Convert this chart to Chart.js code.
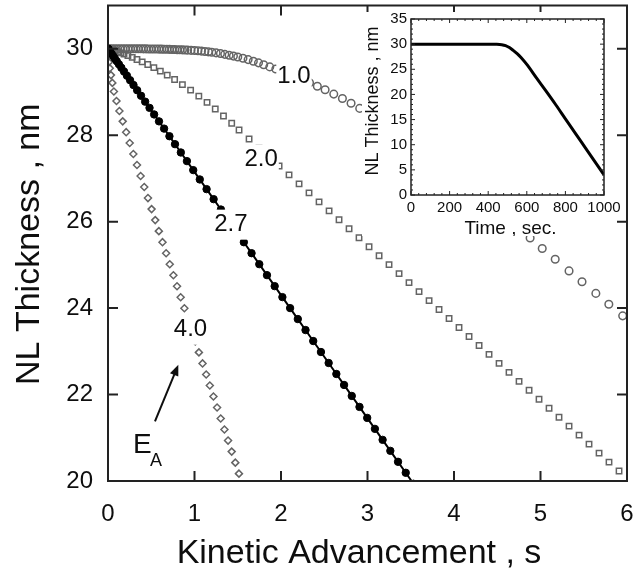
<!DOCTYPE html>
<html>
<head>
<meta charset="utf-8">
<title>NL thickness vs kinetic advancement</title>
<script src="https://cdn.jsdelivr.net/npm/chart.js@4.4.1/dist/chart.umd.min.js"></script>
<style>
  html, body { margin: 0; padding: 0; background: #fff; }
  #wrap { position: relative; width: 636px; height: 571px; overflow: hidden; }
  #wrap canvas { position: absolute; }
  #mainChart { left: 0; top: 0; }
  #insetChart { left: 362px; top: 12px; }
</style>
</head>
<body>
<div id="wrap">
  <canvas id="mainChart" width="636" height="571"></canvas>
  <canvas id="insetChart" width="262" height="224"></canvas>
</div>
<script>
(function () {
  'use strict';

  const FONT = '"Liberation Sans", Arial, Helvetica, sans-serif';
  const INK = '#0e0e0e';
  const GREY = '#646464';

  // E_A = 2.7 : kinetic advancement / NL thickness (filled, joined)
  const ea27X = [0, 0, 0.0028, 0.0084, 0.0168, 0.0281, 0.0421, 0.0589, 0.0786, 0.1011, 0.1263, 0.1544, 0.1853, 0.2189, 0.2554, 0.2947, 0.3368, 0.3818, 0.4295, 0.4800, 0.5333, 0.5895, 0.6484, 0.7102, 0.7747, 0.8421, 0.9123, 0.9853, 1.0611, 1.1396, 1.2211, 1.3053, 1.3923, 1.4814, 1.5705, 1.6596, 1.7488, 1.8379, 1.9270, 2.0161, 2.1053, 2.1944, 2.2835, 2.3726, 2.4618, 2.5509, 2.6400, 2.7291, 2.8182, 2.9074, 2.9965, 3.0856, 3.1747, 3.2639, 3.3530, 3.4421, 3.5312];
  const ea27Y = [30, 30, 29.992, 29.976, 29.952, 29.92, 29.88, 29.832, 29.776, 29.712, 29.64, 29.56, 29.472, 29.376, 29.272, 29.16, 29.04, 28.912, 28.776, 28.632, 28.48, 28.32, 28.152, 27.976, 27.792, 27.60, 27.40, 27.192, 26.976, 26.752, 26.52, 26.28, 26.032, 25.778, 25.524, 25.27, 25.016, 24.762, 24.508, 24.254, 24.0, 23.746, 23.492, 23.238, 22.984, 22.73, 22.476, 22.222, 21.968, 21.714, 21.46, 21.206, 20.952, 20.698, 20.444, 20.19, 19.936];

  // E_A = 1.0 (open circles)
  const ea10X = [0, 0, 0.02, 0.05, 0.08, 0.11, 0.14, 0.17, 0.20, 0.23, 0.26, 0.29, 0.32, 0.35, 0.38, 0.41, 0.44, 0.47, 0.50, 0.53, 0.56, 0.59, 0.62, 0.65, 0.68, 0.71, 0.74, 0.77, 0.80, 0.83, 0.86, 0.89, 0.92, 0.96, 1.00, 1.04, 1.08, 1.12, 1.16, 1.20, 1.25, 1.30, 1.35, 1.40, 1.45, 1.50, 1.56, 1.62, 1.68, 1.74, 1.80, 1.87, 1.94, 2.01, 2.09, 2.17, 2.25, 2.33, 2.42, 2.51, 2.61, 2.71, 2.81, 2.91, 3.02, 3.13, 3.25, 3.37, 3.50, 3.63, 3.76, 3.90, 4.04, 4.18, 4.32, 4.46, 4.60, 4.74, 4.88, 5.02, 5.17, 5.33, 5.48, 5.64, 5.79, 5.95];
  const ea10Y = [30, 30, 30, 30, 30, 30, 30, 30, 30, 29.999, 29.999, 29.999, 29.998, 29.998, 29.998, 29.997, 29.996, 29.995, 29.994, 29.993, 29.992, 29.991, 29.990, 29.988, 29.987, 29.985, 29.983, 29.981, 29.978, 29.976, 29.973, 29.970, 29.967, 29.963, 29.958, 29.952, 29.945, 29.937, 29.928, 29.918, 29.904, 29.888, 29.870, 29.850, 29.830, 29.808, 29.778, 29.748, 29.712, 29.673, 29.630, 29.580, 29.532, 29.482, 29.418, 29.354, 29.288, 29.213, 29.133, 29.050, 28.950, 28.850, 28.740, 28.620, 28.485, 28.345, 28.185, 28.010, 27.820, 27.620, 27.420, 27.215, 27.000, 26.780, 26.550, 26.320, 26.090, 25.860, 25.620, 25.380, 25.130, 24.860, 24.610, 24.340, 24.090, 23.820];

  // E_A = 2.0 (open squares)
  const ea20X = [0, 0, 0.008, 0.02, 0.035, 0.055, 0.08, 0.11, 0.145, 0.185, 0.23, 0.28, 0.335, 0.395, 0.46, 0.53, 0.605, 0.685, 0.77, 0.86, 0.955, 1.05, 1.145, 1.24, 1.335, 1.43, 1.515, 1.631, 1.746, 1.862, 1.978, 2.093, 2.209, 2.324, 2.440, 2.556, 2.671, 2.787, 2.902, 3.018, 3.134, 3.249, 3.365, 3.480, 3.596, 3.712, 3.827, 3.943, 4.058, 4.174, 4.290, 4.405, 4.521, 4.636, 4.752, 4.868, 4.983, 5.099, 5.214, 5.330, 5.446, 5.561, 5.677, 5.792, 5.908];
  const ea20Y = [30, 30, 29.995, 29.988, 29.979, 29.966, 29.949, 29.929, 29.904, 29.874, 29.840, 29.799, 29.751, 29.697, 29.634, 29.563, 29.482, 29.390, 29.287, 29.171, 29.041, 28.904, 28.758, 28.605, 28.445, 28.277, 28.120, 27.911, 27.704, 27.496, 27.288, 27.081, 26.873, 26.666, 26.458, 26.250, 26.043, 25.835, 25.628, 25.420, 25.212, 25.005, 24.797, 24.590, 24.382, 24.174, 23.967, 23.759, 23.552, 23.344, 23.136, 22.929, 22.721, 22.514, 22.306, 22.098, 21.891, 21.683, 21.476, 21.268, 21.060, 20.853, 20.645, 20.438, 20.230];

  // E_A = 4.0 (open diamonds)
  const ea40X = [0, 0, 0, 0, 0.004, 0.010, 0.020, 0.034, 0.050, 0.068, 0.098, 0.132, 0.170, 0.210, 0.251, 0.293, 0.335, 0.377, 0.419, 0.462, 0.504, 0.546, 0.588, 0.630, 0.672, 0.714, 0.756, 0.798, 0.840, 0.883, 0.925, 0.967, 1.009, 1.051, 1.093, 1.135, 1.177, 1.219, 1.261, 1.303, 1.346, 1.388, 1.430, 1.472, 1.514];
  const ea40Y = [30, 30, 29.96, 29.90, 29.81, 29.69, 29.55, 29.39, 29.21, 29.01, 28.79, 28.56, 28.32, 28.07, 27.82, 27.565, 27.31, 27.055, 26.80, 26.545, 26.29, 26.035, 25.78, 25.525, 25.27, 25.015, 24.76, 24.505, 24.25, 23.995, 23.74, 23.485, 23.23, 22.975, 22.72, 22.465, 22.21, 21.955, 21.70, 21.445, 21.19, 20.935, 20.68, 20.425, 20.17];

  // inset: thickness against time
  const insetTime = [0, 100, 200, 300, 400, 440, 470, 490, 510, 530, 550, 570, 600, 650, 700, 750, 800, 850, 900, 950, 1000];
  const insetNL = [30, 30, 30, 30, 30, 29.98, 29.9, 29.72, 29.32, 28.75, 28.12, 27.36, 25.97, 23.3, 20.65, 17.95, 15.15, 12.37, 9.58, 6.79, 4.0];

  const mainXTicks = [0, 1, 2, 3, 4, 5, 6];
  const mainYTicks = [20, 22, 24, 26, 28, 30];
  const insetXTicks = [0, 200, 400, 600, 800, 1000];
  const insetYTicks = [0, 5, 10, 15, 20, 25, 30, 35];

  const curveTags = ['1.0', '2.0', '2.7', '4.0'];

  // annotation anchors, in data units
  const tagAt = [[2.15, 29.37], [1.77, 27.44], [1.42, 25.93], [0.954, 23.50]];
  const eaArrow = [0.543, 21.38, 0.813, 22.69];
  const eaLabelAt = [0.289, 20.65];

  const pts = (xs, ys) => xs.map((x, i) => ({ x: x, y: ys[i] }));

  function axis(min, max, tickVals, size, pad, fontSize, horizontal) {
    return {
      type: 'linear', min: min, max: max,
      afterBuildTicks: s => { s.ticks = tickVals.map(v => ({ value: v })) },
      afterFit: s => {
        if (horizontal) s.height = size; else s.width = size
        s.paddingLeft = s.paddingRight = s.paddingTop = s.paddingBottom = 0
      },
      grid: { display: false, drawTicks: false },
      border: { display: false },
      ticks: {
        font: { family: FONT, size: fontSize }, color: INK, padding: pad,
        maxRotation: 0, autoSkip: false, callback: v => String(v)
      },
      title: { display: false }
    };
  }

  // tick marks pointing into the plot, on both opposite edges
  function tickMarks(ctx, a, scale, values, lenOf, horizontal) {
    values.forEach(v => {
      const p = scale.getPixelForValue(v);
      const len = lenOf(v);
      ctx.beginPath();
      if (horizontal) {
        ctx.moveTo(p, a.bottom); ctx.lineTo(p, a.bottom - len);
        ctx.moveTo(p, a.top); ctx.lineTo(p, a.top + len);
      } else {
        ctx.moveTo(a.left, p); ctx.lineTo(a.left + len, p);
        ctx.moveTo(a.right, p); ctx.lineTo(a.right - len, p);
      }
      ctx.stroke();
    });
  }

  function title(ctx, text, x, y, size, vertical) {
    ctx.save();
    ctx.fillStyle = INK;
    ctx.font = size + 'px ' + FONT;
    ctx.textAlign = 'center';
    ctx.textBaseline = 'alphabetic';
    ctx.translate(x, y);
    if (vertical) ctx.rotate(-Math.PI / 2);
    ctx.fillText(text, 0, 0);
    ctx.restore();
  }

  const mainDecor = {
    id: 'mainDecor',
    afterDatasetsDraw(chart) {
      const { ctx, scales: { x, y } } = chart;
      ctx.save();
      ctx.font = '24px ' + FONT;
      ctx.textAlign = 'center';
      ctx.textBaseline = 'middle';
      curveTags.forEach((tag, i) => {
        const cx = x.getPixelForValue(tagAt[i][0]);
        const cy = y.getPixelForValue(tagAt[i][1]);
        const w = ctx.measureText(tag).width + 2;
        ctx.fillStyle = '#fff';
        ctx.fillRect(cx - w / 2, cy - 15, w, 30);
        ctx.fillStyle = INK;
        ctx.fillText(tag, cx, cy);
      });

      // arrow showing increasing E_A
      const x0 = x.getPixelForValue(eaArrow[0]), y0 = y.getPixelForValue(eaArrow[1]);
      const x1 = x.getPixelForValue(eaArrow[2]), y1 = y.getPixelForValue(eaArrow[3]);
      const ang = Math.atan2(y1 - y0, x1 - x0);
      const c = Math.cos(ang), s = Math.sin(ang);
      ctx.strokeStyle = INK;
      ctx.lineWidth = 2;
      ctx.beginPath();
      ctx.moveTo(x0, y0);
      ctx.lineTo(x1 - 8 * c, y1 - 8 * s);
      ctx.stroke();
      ctx.fillStyle = INK;
      ctx.beginPath();
      ctx.moveTo(x1, y1);
      ctx.lineTo(x1 - 11 * c + 4.5 * s, y1 - 11 * s - 4.5 * c);
      ctx.lineTo(x1 - 11 * c - 4.5 * s, y1 - 11 * s + 4.5 * c);
      ctx.closePath();
      ctx.fill();

      const ex = x.getPixelForValue(eaLabelAt[0]), ey = y.getPixelForValue(eaLabelAt[1]);
      ctx.textAlign = 'left';
      ctx.textBaseline = 'alphabetic';
      ctx.font = '28px ' + FONT;
      ctx.fillText('E', ex, ey);
      ctx.font = '18px ' + FONT;
      ctx.fillText('A', ex + 17, ey + 13);
      ctx.restore();
    },
    afterDraw(chart) {
      const { ctx, chartArea: a, scales: { x, y } } = chart;
      ctx.save();
      ctx.strokeStyle = '#222';
      ctx.lineWidth = 2;
      ctx.strokeRect(a.left, a.top, a.right - a.left, a.bottom - a.top);
      tickMarks(ctx, a, x, mainXTicks, () => 10, true);
      tickMarks(ctx, a, y, mainYTicks, () => 10, false);
      ctx.restore();
      title(ctx, 'Kinetic Advancement , s', a.left + 251, a.bottom + 82, 34, false);
      title(ctx, 'NL Thickness , nm', a.left - 69.5, (a.top + a.bottom) / 2 + 1, 34, true);
    }
  };

  const insetDecor = {
    id: 'insetDecor',
    beforeDraw(chart) {
      const ctx = chart.ctx;
      ctx.save();
      ctx.fillStyle = '#fff';
      ctx.fillRect(0, 0, 255, chart.height);
      ctx.restore();
    },
    afterDraw(chart) {
      const { ctx, chartArea: a, scales: { x, y } } = chart;
      const xMinor = [], yMinor = [];
      for (let v = 0; v <= 1000; v += 40) xMinor.push(v);
      for (let v = 0; v <= 35; v += 1) yMinor.push(v);
      ctx.save();
      ctx.strokeStyle = '#222';
      ctx.lineWidth = 1.5;
      ctx.strokeRect(a.left, a.top, a.right - a.left, a.bottom - a.top);
      ctx.lineWidth = 1;
      tickMarks(ctx, a, x, xMinor, v => (v % 200 === 0 ? 4 : 2), true);
      tickMarks(ctx, a, y, yMinor, v => (v % 5 === 0 ? 4 : 2), false);
      ctx.restore();
      title(ctx, 'Time , sec.', a.left + 99.5, a.bottom + 39, 19, false);
      title(ctx, 'NL Thickness , nm', a.left - 33, (a.top + a.bottom) / 2 - 6, 18, true);
    }
  };

  const hollow = (style, r) => ({
    pointStyle: style, pointRadius: r, pointBackgroundColor: 'rgba(0,0,0,0)',
    pointBorderColor: GREY, pointBorderWidth: 1.5, showLine: false, clip: 0
  });

  // eslint-disable-next-line no-undef
  new Chart(document.getElementById('mainChart'), {
    type: 'scatter',
    data: {
      datasets: [
        { data: pts(ea27X, ea27Y), showLine: true, borderColor: '#000', borderWidth: 2, pointStyle: 'circle', pointRadius: 3.7, pointBackgroundColor: '#000', pointBorderColor: '#000', pointBorderWidth: 1, clip: 0 },
        Object.assign({ data: pts(ea10X, ea10Y) }, hollow('circle', 3.8)),
        Object.assign({ data: pts(ea20X, ea20Y) }, hollow('rect', 3.8)),
        Object.assign({ data: pts(ea40X, ea40Y) }, hollow('rectRot', 3.5))
      ]
    },
    options: {
      responsive: false, animation: false, events: [],
      layout: { padding: { top: 3, right: 9, bottom: 0, left: 0 } },
      plugins: { legend: { display: false }, tooltip: { enabled: false } },
      scales: {
        x: axis(0, 6, mainXTicks, 90, 19, 24, true),
        y: axis(20, 31, mainYTicks, 108, 15, 24, false)
      }
    },
    plugins: [mainDecor]
  });

  // eslint-disable-next-line no-undef
  new Chart(document.getElementById('insetChart'), {
    type: 'scatter',
    data: {
      datasets: [
        { data: pts(insetTime, insetNL), showLine: true, borderColor: '#000', borderWidth: 3, pointRadius: 0, cubicInterpolationMode: 'monotone', clip: 0 }
      ]
    },
    options: {
      responsive: false, animation: false, events: [],
      layout: { padding: { top: 7, right: 20, bottom: 0, left: 0 } },
      plugins: { legend: { display: false }, tooltip: { enabled: false } },
      scales: {
        x: axis(0, 1000, insetXTicks, 41, 4, 15, true),
        y: axis(0, 35, insetYTicks, 49, 4, 15, false)
      }
    },
    plugins: [insetDecor]
  });
})();
</script>
</body>
</html>
